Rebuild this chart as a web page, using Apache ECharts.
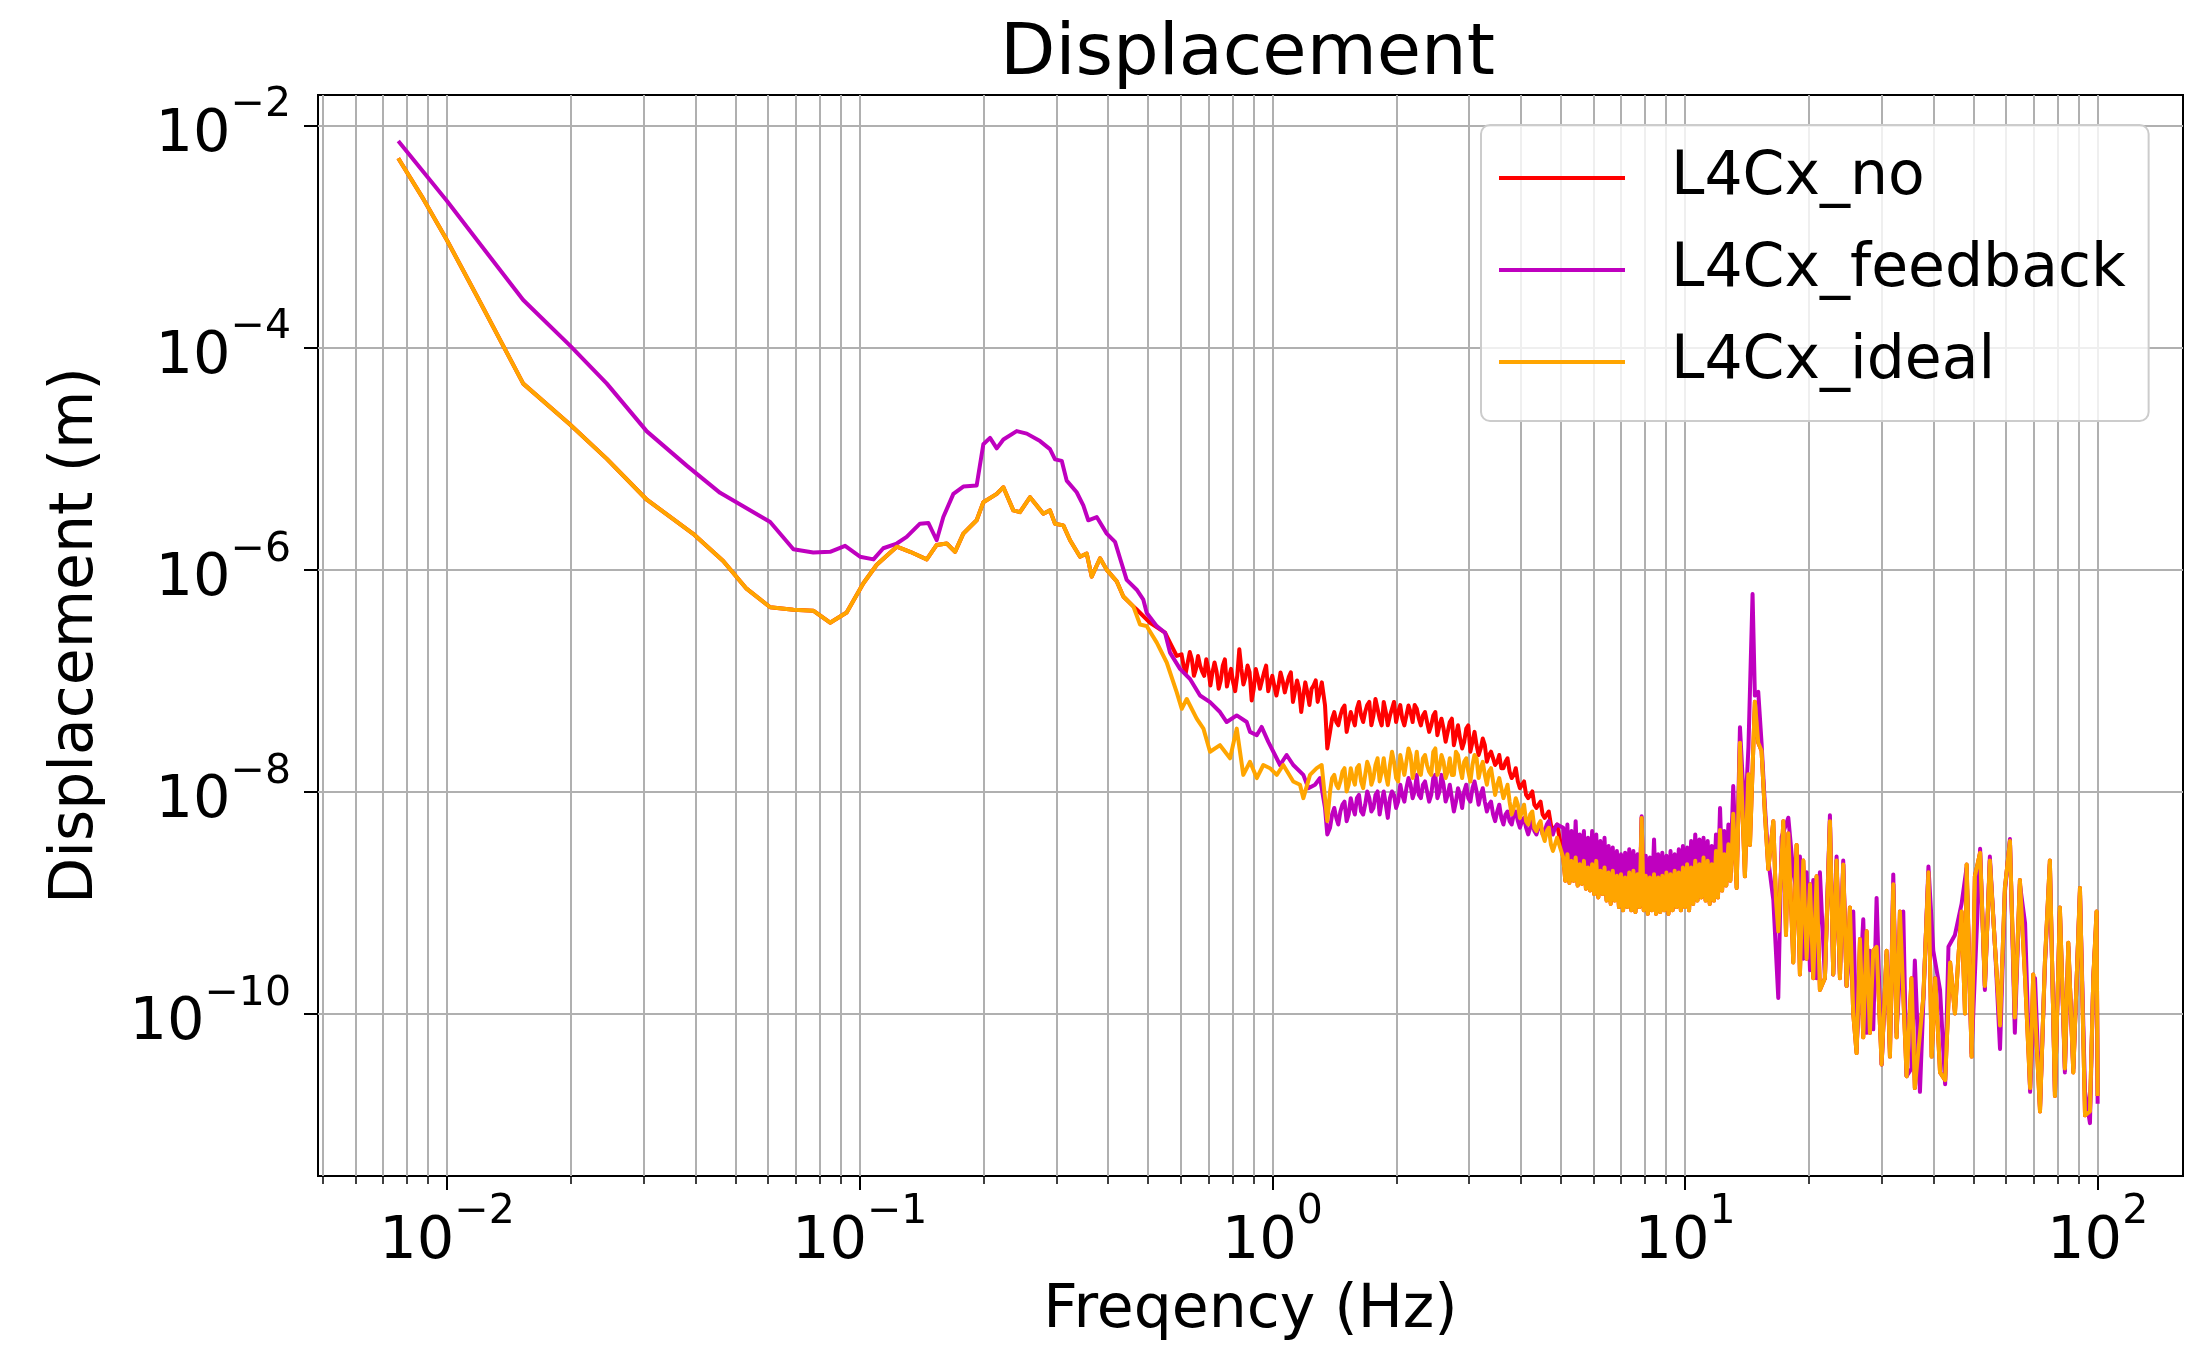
<!DOCTYPE html>
<html><head><meta charset="utf-8">
<script src="https://cdn.jsdelivr.net/npm/echarts@6/dist/echarts.min.js"></script>
<style>html,body{margin:0;padding:0;background:#fff}#c{width:2187px;height:1346px}</style>
</head><body><div id="c"></div>
<script>
// ---------- tick definitions ----------
const xMajorTicks = [0.01, 0.1, 1, 10, 100];
const xMajorExp = ['\u22122', '\u22121', '0', '1', '2'];
const xMinorTicks = [0.005,0.006,0.007,0.008,0.009,0.02,0.03,0.04,0.05,0.06,0.07,0.08,0.09,
  0.2,0.3,0.4,0.5,0.6,0.7,0.8,0.9,2,3,4,5,6,7,8,9,20,30,40,50,60,70,80,90];
const yMajorTicks = [1e-10, 1e-8, 1e-6, 1e-4, 1e-2];
const yMajorExp = ['\u221210', '\u22128', '\u22126', '\u22124', '\u22122'];
const seriesNames = ['L4Cx_no', 'L4Cx_feedback', 'L4Cx_ideal'];

// shared frequency samples of the noisy bands (Hz)
const bandFreqA = [1.380,1.396,1.413,1.429,1.445,1.462,1.479,1.496,1.514,1.531,1.549,1.567,1.585,1.603,1.622,1.641,1.660,1.679,1.698,1.718,
  1.738,1.758,1.778,1.799,1.820,1.841,1.862,1.884,1.905,1.928,1.950,1.972,1.995,2.018,2.042,2.065,2.089,2.113,2.138,2.163,
  2.188,2.213,2.239,2.265,2.291,2.317,2.344,2.371,2.399,2.427,2.455,2.483,2.512,2.541,2.570,2.600,2.630,2.661,2.692,2.723,
  2.754,2.786,2.818,2.851,2.884,2.917,2.951,2.985,3.020,3.055,3.090,3.126,3.162,3.199,3.236,3.273,3.311,3.350,3.388,3.428,
  3.467,3.508,3.548,3.589,3.631,3.673,3.715,3.758,3.802,3.846,3.890,3.936,3.981,4.027,4.074,4.121,4.169,4.217,4.266,4.315,
  4.365,4.416,4.467,4.519,4.571,4.624,4.677,4.732,4.786,4.842,4.898];
const bandFreqB = [5.070,5.129,5.188,5.248,5.309,5.370,5.433,5.495,5.559,5.623,5.689,5.754,5.821,5.888,5.957,6.026,6.095,6.166,6.237,6.310,
  6.383,6.457,6.531,6.607,6.683,6.761,6.839,6.918,6.998,7.079,7.161,7.244,7.328,7.413,7.499,7.586,7.674,7.762,7.852,7.943,
  8.035,8.128,8.222,8.318,8.414,8.511,8.610,8.710,8.810,8.913,9.016,9.120,9.226,9.333,9.441,9.550,9.661,9.772,9.886,10.00,
  10.12,10.23,10.35,10.47,10.59,10.72,10.84,10.96,11.09,11.22,11.35,11.48,11.61,11.75,11.89,12.02,12.16,12.30,12.45,12.59,12.74,12.88,13.03];

// ---------- L4Cx_ideal ----------
const idealFreqLow = [
0.00762,0.00877,0.0100,0.0120,0.0153,0.0199,0.0244,0.0305,0.0395,0.0467,0.0532,0.0607,0.0691,0.0772,0.0848,0.0930,
0.1021,0.1100,0.1230,0.1325,0.1454,0.1537,0.1626,0.1703,0.1783,0.1921,0.1994,0.2149,0.2230,0.2357,0.2446,0.2588,0.2686,0.2787,0.2892,0.2975,0.3116,0.3235,0.3420,0.3550,0.3650,0.3825,0.3970,0.4198,0.4355,0.4604,
0.4780,0.4963,0.5248,0.5548,0.5867,0.6033,0.6203,0.6558,0.6809,0.7064,0.7468,0.7899,0.8199,0.8505,
0.883,0.917,0.951,0.987,1.025,1.063,1.124,1.167,1.189,1.234,1.281,1.317,1.342,1.359];
const idealValLow = [
5.05e-3,2.16e-3,9.2e-4,2.6e-4,4.71e-5,2.01e-5,9.9e-6,4.24e-6,2.09e-6,1.19e-6,6.7e-7,4.56e-7,4.34e-7,4.25e-7,3.31e-7,4.09e-7,
7.5e-7,1.10e-6,1.60e-6,1.44e-6,1.23e-6,1.66e-6,1.71e-6,1.44e-6,2.10e-6,2.77e-6,4.03e-6,4.79e-6,5.49e-6,3.40e-6,3.28e-6,4.47e-6,3.77e-6,3.17e-6,3.40e-6,2.58e-6,2.49e-6,1.83e-6,1.30e-6,1.39e-6,8.6e-7,1.26e-6,9.9e-7,7.8e-7,5.7e-7,4.65e-7,
3.19e-7,3.08e-7,2.19e-7,1.45e-7,7.8e-8,5.55e-8,6.8e-8,4.53e-8,3.68e-8,2.28e-8,2.61e-8,1.99e-8,3.68e-8,1.41e-8,
1.85e-8,1.32e-8,1.73e-8,1.62e-8,1.41e-8,1.73e-8,1.23e-8,1.15e-8,8.7e-9,1.41e-8,1.62e-8,1.73e-8,8.7e-9,5.4e-9];
const idealValA = [
1.0e-8,1.32e-8,1.41e-8,1.15e-8,1.07e-8,1.23e-8,1.51e-8,1.62e-8,1.0e-8,1.15e-8,1.62e-8,1.32e-8,1.15e-8,1.62e-8,1.73e-8,1.23e-8,1.07e-8,1.41e-8,1.85e-8,1.62e-8,
1.15e-8,1.32e-8,1.73e-8,1.99e-8,1.23e-8,1.51e-8,1.99e-8,1.41e-8,1.15e-8,1.73e-8,2.28e-8,1.85e-8,1.32e-8,1.23e-8,2.13e-8,1.73e-8,1.41e-8,1.85e-8,2.44e-8,2.13e-8,
1.32e-8,1.62e-8,2.28e-8,1.51e-8,1.41e-8,1.99e-8,2.13e-8,1.73e-8,1.51e-8,1.41e-8,2.28e-8,2.44e-8,1.41e-8,1.62e-8,2.13e-8,1.85e-8,1.32e-8,1.51e-8,1.99e-8,1.41e-8,
1.41e-8,2.28e-8,2.13e-8,1.62e-8,1.32e-8,1.85e-8,1.99e-8,1.51e-8,1.23e-8,1.73e-8,2.13e-8,1.99e-8,1.32e-8,1.62e-8,1.85e-8,1.41e-8,1.15e-8,1.51e-8,1.62e-8,1.23e-8,
9.3e-9,1.15e-8,1.32e-8,1.07e-8,8.7e-9,1.0e-8,1.15e-8,8.1e-9,6.2e-9,7.1e-9,8.7e-9,7.6e-9,5.78e-9,6.6e-9,7.6e-9,5.4e-9,5.04e-9,6.2e-9,6.6e-9,4.71e-9,
4.40e-9,5.04e-9,5.40e-9,4.10e-9,3.58e-9,4.40e-9,4.71e-9,3.34e-9,2.91e-9,3.34e-9,3.83e-9];
const idealValB = [
2.54e-9,1.57e-9,2.72e-9,1.50e-9,2.37e-9,1.57e-9,2.54e-9,1.42e-9,2.21e-9,1.47e-9,
2.37e-9,1.33e-9,2.07e-9,1.28e-9,2.21e-9,1.19e-9,2.37e-9,1.11e-9,1.93e-9,1.19e-9,
2.07e-9,1.04e-9,1.86e-9,9.7e-10,1.93e-9,1.04e-9,1.74e-9,9.1e-10,1.80e-9,8.5e-10,
1.68e-9,9.1e-10,1.86e-9,8.5e-10,1.93e-9,8.2e-10,1.80e-9,9.1e-10,5.78e-9,8.5e-10,
1.74e-9,7.9e-10,1.68e-9,8.5e-10,1.80e-9,7.9e-10,1.68e-9,8.2e-10,1.74e-9,8.5e-10,
1.86e-9,7.9e-10,1.80e-9,8.5e-10,1.93e-9,9.1e-10,1.86e-9,8.5e-10,2.07e-9,9.1e-10,
2.21e-9,8.5e-10,2.07e-9,9.7e-10,2.37e-9,1.04e-9,2.21e-9,1.11e-9,2.54e-9,1.04e-9,
2.37e-9,9.7e-10,2.21e-9,1.04e-9,2.91e-9,1.11e-9,4.5e-9,1.28e-9,2.72e-9,1.42e-9,
3.34e-9,1.57e-9,3.83e-9];
const idealFreqHigh = [
13.09,13.34,13.59,13.97,14.24,14.37,14.77,15.05,15.33,15.62,15.92,16.37,16.61,16.83,17.31,17.57,17.80,18.30,18.64,18.99,19.35,19.71,20.09,20.46,20.84,21.23,21.83,22.45,22.87,23.30,23.74,24.18,24.64,25.10,25.57,26.05,26.55,27.04,27.55,28.06,28.59,29.13,29.96,30.80,31.38,31.97,32.57,33.18,34.44,35.40,36.06,
37.8,38.9,39.6,40.4,41.5,42.7,43.9,45.1,45.95,46.8,47.7,48.14,49.5,50.4,51.9,53.3,54.8,56.4,58.0,59.6,61.3,63.0,64.8,66.7,68.6,69.8,72.5,74.5,76.6,78.8,81.0,83.3,84.9,87.3,90.6,93.2,95.8,97.6,99.4,100.0];
const idealValHigh = [
6.3e-9,1.35e-9,2.74e-8,1.72e-9,1.43e-8,3.30e-9,6.43e-8,2.74e-8,2.33e-8,6.3e-9,2.0e-9,5.4e-9,1.06e-9,5.5e-10,5.4e-9,5.1e-10,4.2e-9,2.88e-10,3.30e-9,2.25e-10,2.39e-9,3.12e-10,1.46e-9,2.08e-10,1.72e-9,1.63e-10,2.08e-10,5.4e-9,2.25e-10,2.39e-9,2.08e-10,2.2e-9,1.77e-10,9.0e-10,1.0e-10,4.4e-11,4.69e-10,6.1e-11,5.5e-10,6.7e-11,3.67e-10,3.99e-10,3.48e-11,3.67e-10,4.09e-11,1.46e-9,6.1e-11,8.3e-10,2.72e-11,2.08e-10,2.13e-11,
1.38e-10,1.87e-9,4.09e-11,2.08e-10,2.95e-11,2.51e-11,2.88e-10,1.0e-10,3.12e-10,8.3e-10,1.0e-10,2.2e-9,4.09e-11,1.72e-9,2.81e-9,1.77e-10,2.39e-9,3.99e-10,7.8e-11,1.35e-9,3.58e-9,9.2e-11,1.59e-9,2.08e-10,2.13e-11,2.25e-10,1.31e-11,2.88e-10,2.39e-9,1.81e-11,9.0e-10,3.2e-11,4.33e-10,2.95e-11,1.35e-9,1.21e-11,1.31e-11,2.08e-10,8.3e-10,1.81e-11];

// ---------- L4Cx_feedback ----------
const feedbackFreqLow = [
0.00762,0.00877,0.0100,0.0120,0.0153,0.0199,0.0244,0.0305,0.0381,0.0459,0.0607,0.0691,0.0772,0.0848,0.0922,
0.1002,0.1080,0.1141,0.1230,0.1300,0.1400,0.1467,0.1537,0.1595,0.1687,0.1783,0.1921,0.1994,0.2070,0.2149,0.2230,0.2402,0.2541,0.2736,0.2892,0.2975,0.3088,0.3175,0.3357,0.3483,0.3581,0.3754,0.3970,0.4158,0.4275,0.4437,0.4692,0.4869,0.4963,0.5248,0.5496,0.5650,0.5975,0.6318,0.6680,0.7064,0.7468,0.7753,0.8199,0.8670,
0.883,0.917,0.942,0.978,1.015,1.044,1.083,1.124,1.189,1.223,1.269,1.305,1.342,1.359];
const feedbackValLow = [
7.2e-3,3.8e-3,2.08e-3,8.6e-4,2.67e-4,1.03e-4,4.71e-5,1.75e-5,8.6e-6,4.89e-6,2.67e-6,1.52e-6,1.42e-6,1.44e-6,1.63e-6,
1.30e-6,1.23e-6,1.55e-6,1.71e-6,1.96e-6,2.58e-6,2.62e-6,1.83e-6,2.96e-6,4.79e-6,5.57e-6,5.69e-6,1.34e-5,1.53e-5,1.23e-5,1.48e-5,1.76e-5,1.67e-5,1.43e-5,1.21e-5,9.8e-6,9.5e-6,6.3e-6,4.95e-6,3.77e-6,2.77e-6,2.96e-6,2.10e-6,1.77e-6,1.26e-6,8.05e-7,6.56e-7,5.34e-7,4.05e-7,3.08e-7,2.69e-7,1.78e-7,1.27e-7,1.03e-7,7.31e-8,6.37e-8,5.19e-8,4.22e-8,4.84e-8,4.22e-8,
3.44e-8,3.21e-8,3.81e-8,2.80e-8,2.13e-8,1.73e-8,2.13e-8,1.73e-8,1.41e-8,1.07e-8,1.15e-8,1.32e-8,7.1e-9,4.10e-9];
const feedbackValA = [
4.71e-9,6.2e-9,7.1e-9,5.78e-9,5.04e-9,6.6e-9,7.6e-9,8.1e-9,5.4e-9,6.2e-9,8.7e-9,7.1e-9,6.2e-9,8.7e-9,9.3e-9,6.6e-9,6.2e-9,7.6e-9,1.0e-8,8.7e-9,
6.6e-9,7.1e-9,9.3e-9,1.0e-8,6.2e-9,8.1e-9,1.0e-8,7.6e-9,5.78e-9,8.7e-9,1.0e-8,9.3e-9,7.1e-9,8.1e-9,1.15e-8,9.3e-9,8.1e-9,1.07e-8,1.32e-8,1.15e-8,
8.7e-9,1.0e-8,1.41e-8,9.3e-9,8.7e-9,1.15e-8,1.23e-8,1.0e-8,8.1e-9,9.3e-9,1.32e-8,1.41e-8,8.7e-9,1.0e-8,1.41e-8,1.15e-8,8.1e-9,9.3e-9,1.15e-8,8.7e-9,
6.6e-9,8.1e-9,1.07e-8,9.3e-9,7.1e-9,1.0e-8,1.15e-8,8.7e-9,8.1e-9,1.07e-8,1.23e-8,1.0e-8,7.6e-9,9.3e-9,1.07e-8,8.1e-9,6.6e-9,7.6e-9,8.1e-9,6.2e-9,
5.4e-9,6.6e-9,7.6e-9,5.78e-9,5.04e-9,6.2e-9,6.6e-9,5.4e-9,5.04e-9,6.2e-9,6.6e-9,5.4e-9,4.71e-9,5.4e-9,5.78e-9,4.71e-9,4.10e-9,4.71e-9,5.4e-9,4.40e-9,
4.10e-9,4.71e-9,5.04e-9,4.10e-9,4.40e-9,5.04e-9,5.4e-9,4.40e-9,4.10e-9,4.71e-9,5.04e-9];
const feedbackValB = [
4.71e-9,1.80e-9,5.04e-9,1.74e-9,4.40e-9,1.68e-9,5.40e-9,1.80e-9,4.10e-9,1.68e-9,
4.40e-9,1.57e-9,3.83e-9,1.47e-9,4.40e-9,1.42e-9,4.10e-9,1.33e-9,3.58e-9,1.28e-9,
3.83e-9,1.19e-9,3.23e-9,1.11e-9,3.12e-9,1.19e-9,2.91e-9,1.04e-9,2.72e-9,1.11e-9,
2.81e-9,1.04e-9,3.01e-9,1.11e-9,2.91e-9,1.04e-9,2.72e-9,1.11e-9,5.98e-9,1.04e-9,
2.63e-9,1.04e-9,2.54e-9,1.11e-9,3.70e-9,1.04e-9,2.72e-9,1.11e-9,2.81e-9,1.19e-9,
2.63e-9,1.11e-9,2.91e-9,1.19e-9,2.72e-9,1.28e-9,3.01e-9,1.19e-9,3.23e-9,1.28e-9,
3.12e-9,1.37e-9,3.58e-9,1.47e-9,4.10e-9,1.42e-9,3.70e-9,1.57e-9,3.83e-9,1.47e-9,
3.58e-9,1.37e-9,3.23e-9,1.42e-9,4.10e-9,1.57e-9,7.1e-9,1.93e-9,4.40e-9,1.80e-9,
5.04e-9,2.07e-9,6.6e-9];
const feedbackFreqHigh = [
13.09,13.34,13.59,13.97,14.25,14.58,14.77,15.05,15.33,15.62,15.92,16.37,16.83,17.15,17.80,18.30,18.64,18.99,19.35,19.71,20.09,20.46,20.84,21.23,21.83,22.45,22.87,23.30,23.74,24.18,24.64,25.57,26.05,27.04,27.55,28.06,28.59,29.13,29.96,30.80,31.38,31.97,32.57,33.80,34.44,35.40,36.06,
37.1,38.9,39.97,41.5,42.7,43.5,45.1,46.8,48.1,49.5,51.9,53.3,54.8,56.4,58.0,59.6,61.3,63.0,64.8,66.7,68.6,70.5,72.5,74.5,76.6,78.8,81.0,83.3,84.9,87.3,90.6,93.2,95.8,97.6,99.4,100.0];
const feedbackValHigh = [
1.12e-8,1.72e-9,3.79e-8,5.4e-9,2.52e-8,6.0e-7,7.3e-8,7.9e-8,2.74e-8,7.4e-9,2.39e-9,1.06e-9,1.38e-10,3.89e-9,5.8e-9,1.87e-9,1.25e-9,2.59e-9,3.12e-10,1.87e-9,2.45e-10,1.59e-9,2.08e-10,1.87e-9,2.08e-10,6.1e-9,2.25e-10,2.59e-9,2.25e-10,2.39e-9,1.77e-10,8.3e-10,4.8e-11,7.05e-10,6.7e-11,3.67e-10,7.2e-11,1.10e-9,3.48e-11,3.39e-10,4.8e-11,1.79e-9,6.7e-11,8.3e-10,2.72e-11,3.2e-11,3.0e-10,
1.97e-11,2.11e-9,3.67e-10,1.63e-10,2.31e-11,3.99e-10,5.1e-10,9.7e-10,2.03e-9,4.4e-11,3.05e-9,1.63e-10,2.59e-9,3.99e-10,4.8e-11,1.24e-9,3.73e-9,6.7e-11,1.46e-9,6.5e-10,1.97e-11,2.08e-10,1.42e-11,2.65e-10,2.2e-9,1.97e-11,8.3e-10,2.95e-11,3.99e-10,3.2e-11,1.24e-9,1.97e-11,1.03e-11,2.08e-10,7.05e-10,1.54e-11];

// ---------- L4Cx_no (where it separates from L4Cx_ideal, 0.47 - 5 Hz) ----------
const noFreqStart = [0.4692,0.5056,0.5496,0.5650,0.5867];
const noValStart = [4.35e-7,3.30e-7,2.69e-7,2.19e-7,1.66e-7];
const noFreqR = [0.6026,0.6095,0.6166,0.6237,0.6310,0.6383,0.6457,0.6531,0.6607,0.6683,0.6761,0.6839,0.6918,0.6998,0.7079,0.7161,0.7244,0.7328,0.7413,0.7499,
  0.7586,0.7674,0.7762,0.7852,0.7943,0.8035,0.8128,0.8222,0.8318,0.8414,0.8511,0.8610,0.8710,0.8810,0.8913,0.9016,0.9120,0.9226,0.9333,0.9441,
  0.9550,0.9661,0.9772,0.9886,1.000,1.012,1.023,1.035,1.047,1.059,1.072,1.084,1.096,1.109,1.122,1.135,1.148,1.161,1.175,1.189,
  1.202,1.216,1.230,1.245,1.259,1.274,1.288,1.303,1.318];
const noValR = [1.72e-7,1.36e-7,1.15e-7,1.45e-7,1.80e-7,1.55e-7,1.10e-7,1.27e-7,1.66e-7,1.36e-7,1.20e-7,1.10e-7,1.55e-7,1.27e-7,9.0e-8,1.18e-7,1.45e-7,1.20e-7,8.4e-8,1.00e-7,
  1.36e-7,1.55e-7,8.8e-8,1.07e-7,1.27e-7,9.6e-8,8.0e-8,1.10e-7,1.91e-7,1.27e-7,9.2e-8,1.07e-7,1.36e-7,1.18e-7,6.6e-8,8.4e-8,1.27e-7,1.07e-7,8.4e-8,1.00e-7,
  1.18e-7,1.36e-7,8.0e-8,9.6e-8,1.10e-7,8.8e-8,7.3e-8,9.0e-8,1.18e-7,1.00e-7,7.8e-8,9.2e-8,1.07e-7,1.18e-7,6.4e-8,8.0e-8,1.00e-7,8.4e-8,5.19e-8,7.3e-8,
  9.6e-8,7.8e-8,6.0e-8,8.4e-8,9.0e-8,1.0e-7,6.4e-8,7.8e-8,9.6e-8];
const noFreqDip = [1.342, 1.359];
const noValDip = [5.94e-8, 2.44e-8];
const noValA = [
3.44e-8,4.52e-8,5.19e-8,4.22e-8,3.94e-8,4.83e-8,5.56e-8,5.94e-8,3.44e-8,4.22e-8,5.19e-8,4.52e-8,3.94e-8,5.56e-8,6.4e-8,4.83e-8,4.22e-8,5.19e-8,6.0e-8,6.4e-8,
3.94e-8,4.83e-8,6.8e-8,5.56e-8,4.52e-8,3.94e-8,6.4e-8,5.19e-8,3.94e-8,4.83e-8,5.56e-8,6.4e-8,4.22e-8,5.19e-8,6.0e-8,4.52e-8,3.94e-8,4.83e-8,5.94e-8,5.19e-8,
4.22e-8,6.0e-8,5.56e-8,4.52e-8,3.94e-8,4.83e-8,5.19e-8,4.22e-8,3.44e-8,3.94e-8,4.83e-8,5.19e-8,3.21e-8,3.94e-8,4.52e-8,3.68e-8,2.80e-8,3.44e-8,4.22e-8,4.52e-8,
2.61e-8,3.21e-8,3.94e-8,3.0e-8,2.44e-8,2.80e-8,3.68e-8,3.94e-8,2.28e-8,2.80e-8,3.44e-8,2.61e-8,2.13e-8,2.44e-8,3.0e-8,2.61e-8,1.85e-8,2.13e-8,2.28e-8,1.99e-8,
1.73e-8,1.85e-8,2.13e-8,1.62e-8,1.62e-8,1.85e-8,1.99e-8,1.51e-8,1.32e-8,1.41e-8,1.62e-8,1.23e-8,1.07e-8,1.15e-8,1.23e-8,9.3e-9,8.7e-9,9.3e-9,1.0e-8,7.6e-9,
7.1e-9,7.6e-9,8.1e-9,6.2e-9,5.78e-9,6.2e-9,6.6e-9,5.04e-9,4.40e-9,4.71e-9,5.04e-9];
// below 0.47 Hz and above 5 Hz the red trace lies under the orange one
const noSharedBelow = 0.465, noSharedAbove = 5.0;

const FONT = 'DejaVu Sans';
function pairs(f, v) { return f.map((x, i) => [x, v[i]]); }
const idealPairs = pairs(idealFreqLow.concat(bandFreqA, bandFreqB, idealFreqHigh),
                         idealValLow.concat(idealValA, idealValB, idealValHigh));
const feedbackPairs = pairs(feedbackFreqLow.concat(bandFreqA, bandFreqB, feedbackFreqHigh),
                            feedbackValLow.concat(feedbackValA, feedbackValB, feedbackValHigh));
const noPairs = idealPairs.filter(p => p[0] < noSharedBelow)
  .concat(pairs(noFreqStart.concat(noFreqR, noFreqDip, bandFreqA), noValStart.concat(noValR, noValDip, noValA)))
  .concat(idealPairs.filter(p => p[0] > noSharedAbove));

function expLabel(ticks, exps) {
  return function (v) {
    for (let i = 0; i < ticks.length; i++) {
      if (Math.abs(v / ticks[i] - 1) < 1e-6) return '{b|10}{s|' + exps[i] + '}';
    }
    return '';
  };
}
const labelRich = {
  b: { fontFamily: FONT, fontSize: 59, color: '#000', lineHeight: 80, verticalAlign: 'bottom' },
  s: { fontFamily: FONT, fontSize: 41, color: '#000', lineHeight: 41, verticalAlign: 'top' }
};
const gridLine = { show: true, lineStyle: { color: '#b0b0b0', width: 2 } };
const X_MIN = 0.004869, X_MAX = 161.0, Y_MIN = 3.44e-12, Y_MAX = 0.01873;

const chart = echarts.init(document.getElementById('c'), null, { renderer: 'canvas' });
chart.setOption({
  animation: false,
  backgroundColor: '#fff',
  title: {
    text: 'Displacement', left: 995, top: 14,
    textStyle: { fontFamily: FONT, fontSize: 72, fontWeight: 'normal', color: '#000' }
  },
  grid: { left: 318, top: 95, width: 1865, height: 1089, show: true, borderColor: '#000', borderWidth: 2, backgroundColor: 'transparent' },
  legend: {
    data: seriesNames, orient: 'vertical', left: 1481, top: 125,
    icon: 'rect', itemWidth: 126, itemHeight: 4, itemGap: 20,
    textStyle: { fontFamily: FONT, fontSize: 60, color: '#000', lineHeight: 72, padding: [0, 0, 0, 41] },
    backgroundColor: 'rgba(255,255,255,0.8)', borderColor: '#cccccc', borderWidth: 2, borderRadius: 9,
    padding: [17, 23, 23, 18]
  },
  xAxis: [{
    type: 'log', logBase: 10, min: X_MIN, max: X_MAX, position: 'bottom',
    name: 'Freqency (Hz)', nameLocation: 'middle', nameGap: 105,
    nameTextStyle: { fontFamily: FONT, fontSize: 60, color: '#000' },
    axisLine: { show: false },
    axisTick: { show: true, customValues: xMajorTicks, length: 14, lineStyle: { color: '#000', width: 2 } },
    axisLabel: { customValues: xMajorTicks, formatter: expLabel(xMajorTicks, xMajorExp), margin: 16, rich: labelRich },
    splitLine: gridLine, minorTick: { show: false }, minorSplitLine: { show: false }
  }, {
    type: 'log', logBase: 10, min: X_MIN, max: X_MAX, position: 'bottom',
    axisLine: { show: false },
    axisTick: { show: true, customValues: xMinorTicks, length: 8, lineStyle: { color: '#000', width: 1.5 } },
    axisLabel: { show: false },
    splitLine: gridLine
  }],
  yAxis: {
    type: 'log', logBase: 10, min: Y_MIN, max: Y_MAX,
    name: 'Displacement (m)', nameLocation: 'middle', nameGap: 212, nameRotate: 90,
    nameTextStyle: { fontFamily: FONT, fontSize: 60, color: '#000' },
    axisLine: { show: false },
    axisTick: { show: true, customValues: yMajorTicks, length: 14, lineStyle: { color: '#000', width: 2 } },
    axisLabel: { customValues: yMajorTicks, formatter: expLabel(yMajorTicks, yMajorExp), margin: 27, rich: labelRich },
    splitLine: gridLine
  },
  series: [
    { name: seriesNames[0], type: 'line', data: noPairs, symbol: 'none', color: '#ff0000',
      lineStyle: { width: 4, color: '#ff0000', join: 'round' }, silent: true },
    { name: seriesNames[1], type: 'line', data: feedbackPairs, symbol: 'none', color: '#bf00bf',
      lineStyle: { width: 4, color: '#bf00bf', join: 'round' }, silent: true },
    { name: seriesNames[2], type: 'line', data: idealPairs, symbol: 'none', color: '#ffa500',
      lineStyle: { width: 4, color: '#ffa500', join: 'round' }, silent: true }
  ]
});
</script></body></html>
